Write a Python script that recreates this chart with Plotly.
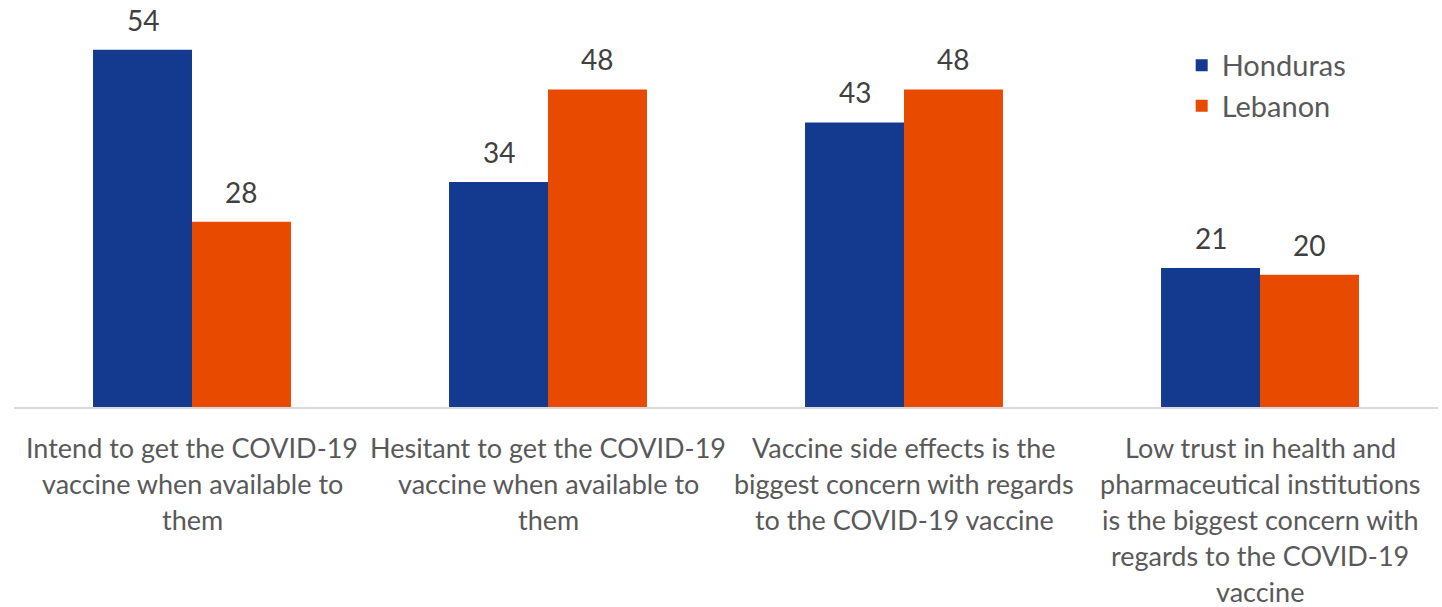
import plotly.graph_objects as go

categories = [
    "Intend to get the COVID-19<br>vaccine when available to<br>them",
    "Hesitant to get the COVID-19<br>vaccine when available to<br>them",
    "Vaccine side effects is the<br>biggest concern with regards<br>to the COVID-19 vaccine",
    "Low trust in health and<br>pharmaceutical institutions<br>is the biggest concern with<br>regards to the COVID-19<br>vaccine",
]
series_names = ["Honduras", "Lebanon"]
honduras = [54, 34, 43, 21]
lebanon = [28, 48, 48, 20]

FONT = "Source Sans Pro, Lato, sans-serif"
TXT = "#595959"
LBL = "#404040"
BLUE = "#133A8F"
ORANGE = "#E84A00"
FS = 27

W, H = 1442, 607
ML, MR, MT, MB = 14, 4, 10, 200
BARGAP = 0.444
plot_w = W - ML - MR
bar_px = plot_w / len(categories) * (1 - BARGAP) / 2

fig = go.Figure()
for name, vals, col in [(series_names[0], honduras, BLUE), (series_names[1], lebanon, ORANGE)]:
    fig.add_trace(go.Bar(x=categories, y=vals, name=name, marker_color=col,
                         marker_line_width=0))

# value labels above bars
for k, vals in enumerate([honduras, lebanon]):
    shift = (-0.5 + k) * bar_px
    for cat, v in zip(categories, vals):
        fig.add_annotation(x=cat, y=v, xref="x", yref="y", text=str(v), showarrow=False,
                           xshift=shift, yshift=30, yanchor="middle",
                           font=dict(size=28, color=LBL, family=FONT))

# category labels as per-line annotations for custom line spacing
for cat in categories:
    for i, line in enumerate(cat.split("<br>")):
        fig.add_annotation(x=cat, y=0, xref="x", yref="y", text=line, showarrow=False,
                           yanchor="middle", yshift=-(40 + i * 36.2),
                           font=dict(size=FS, color=TXT, family=FONT))

fig.update_layout(
    width=W, height=H,
    margin=dict(l=ML, r=MR, t=MT, b=MB),
    paper_bgcolor="white", plot_bgcolor="white",
    barmode="group", bargap=BARGAP, bargroupgap=0,
    font=dict(family=FONT, color=TXT, size=FS),
    legend=dict(x=0.82, y=0.925, xanchor="left", yanchor="top",
                font=dict(size=29, color=TXT, family=FONT),
                bgcolor="rgba(0,0,0,0)", tracegroupgap=0),
    showlegend=True,
)
fig.update_xaxes(showticklabels=False, showline=True, linecolor="#D9D9D9", linewidth=2,
                 ticks="", showgrid=False)
fig.update_yaxes(range=[0, 60], visible=False, showgrid=False)

fig.write_html("out.html")
